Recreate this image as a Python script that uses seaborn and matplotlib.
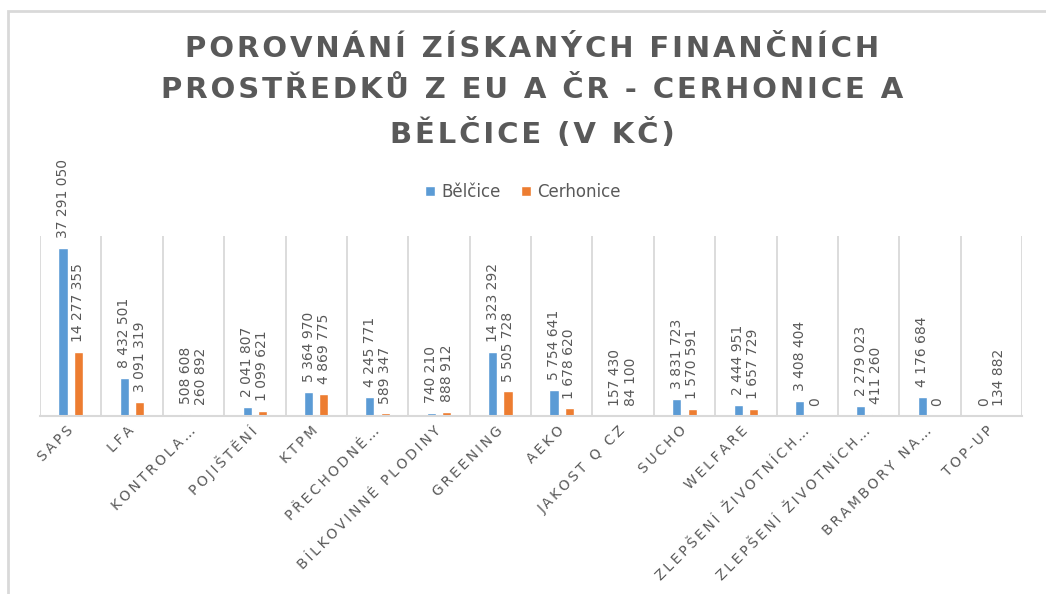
import matplotlib
matplotlib.use("Agg")
import matplotlib.pyplot as plt
import matplotlib.patches as mpatches
import seaborn as sns
import pandas as pd

# data
categories = ["SAPS", "LFA", "KONTROLA…", "POJIŠTĚNÍ", "KTPM", "PŘECHODNÉ…",
              "BÍLKOVINNÉ PLODINY", "GREENING", "AEKO", "JAKOST Q CZ", "SUCHO",
              "WELFARE", "ZLEPŠENÍ ŽIVOTNÍCH…", "ZLEPŠENÍ ŽIVOTNÍCH…",
              "BRAMBORY NA…", "TOP-UP"]
belcice = [37291050, 8432501, 508608, 2041807, 5364970, 4245771, 740210,
           14323292, 5754641, 157430, 3831723, 2444951, 3408404, 2279023,
           4176684, 0]
cerhonice = [14277355, 3091319, 260892, 1099621, 4869775, 589347, 888912,
             5505728, 1678620, 84100, 1570591, 1657729, 0, 411260, 0, 134882]
series = ["Bělčice", "Cerhonice"]
title = "POROVNÁNÍ ZÍSKANÝCH FINANČNÍCH\nPROSTŘEDKŮ Z EU A ČR - CERHONICE A\nBĚLČICE (V KČ)"

# unique x keys so repeated labels stay separate categories
keys = [f"{i:02d}" for i in range(len(categories))]
df = pd.DataFrame({
    "key": keys * 2,
    "obec": [series[0]] * len(keys) + [series[1]] * len(keys),
    "value": belcice + cerhonice,
})

GRAY = "#595959"
LINE = "#d9d9d9"


def track(s, sep="\u2009"):
    # fake letter spacing
    return sep.join(s)


sns.set_theme(style="white")
plt.rcParams["font.family"] = ["DejaVu Sans"]

fig = plt.figure(figsize=(10.46, 5.94), dpi=100)
ax = fig.add_axes([40 / 1046, 1 - 416 / 594, 982 / 1046, 180 / 594])

sns.barplot(data=df, x="key", y="value", hue="obec",
            palette=["#5B9BD5", "#ED7D31"], width=0.5, gap=0.4,
            saturation=1, ax=ax)

ax.set_ylim(0, 40_000_000)
ax.set_xlim(-0.5, len(keys) - 0.5)

# category separators
ax.vlines([i - 0.5 for i in range(len(keys) + 1)], 0, 40_000_000,
          color=LINE, lw=1.3, zorder=0)

for cont, vals in zip(ax.containers, [belcice, cerhonice]):
    labs = [f"{v:,}".replace(",", " ") for v in vals]
    ax.bar_label(cont, labels=labs, rotation=90, padding=7,
                 color=GRAY, fontsize=10)

ax.set_xticks(range(len(keys)))
ax.set_xticklabels([track(c) for c in categories], rotation=45,
                   ha="right", va="center", rotation_mode="anchor",
                   fontsize=10, color=GRAY)
ax.tick_params(axis="x", length=0, pad=9)
ax.set_yticks([])
ax.set_xlabel("")
ax.set_ylabel("")
sns.despine(ax=ax, left=True, top=True, right=True)
ax.spines["bottom"].set_color(LINE)
ax.spines["bottom"].set_linewidth(1.5)

handles, labels = ax.get_legend_handles_labels()
ax.legend(handles, labels, loc="center", bbox_to_anchor=(0.5, 1 - 192 / 594),
          bbox_transform=fig.transFigure, ncol=2, frameon=False,
          handlelength=0.6, handleheight=0.6, handletextpad=0.4,
          columnspacing=1.2, fontsize=12, labelcolor=GRAY)

tl = "\n".join(track(line, "\u200a") for line in title.split("\n"))
fig.text(532 / 1046, 1 - 92 / 594, tl, ha="center", va="center",
         fontsize=21, fontweight="bold", color=GRAY, linespacing=1.6)

# chart frame (only left and top edges visible)
fig.add_artist(mpatches.Rectangle((8 / 1046, -0.2), 1.2, 1.2 - 11 / 594,
                                  transform=fig.transFigure, fill=False,
                                  edgecolor=LINE, lw=2))

fig.savefig("out.png", dpi=100)
